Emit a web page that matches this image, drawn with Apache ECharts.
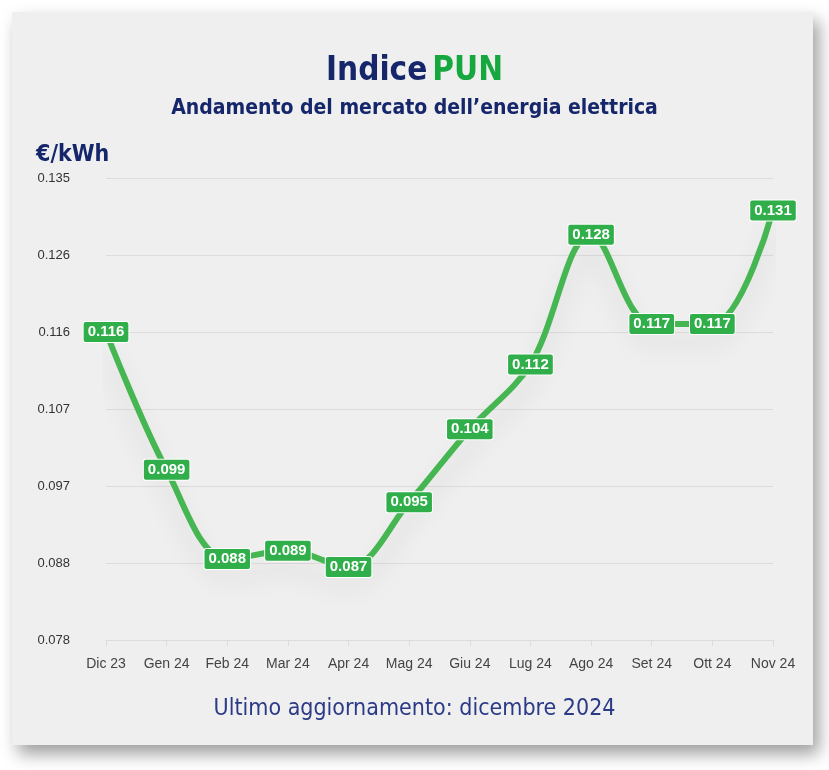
<!DOCTYPE html>
<html>
<head>
<meta charset="utf-8">
<script src="https://cdn.jsdelivr.net/npm/echarts@6/dist/echarts.min.js"></script>
<style>
  html, body { margin: 0; padding: 0; background: #ffffff; }
  #card {
    position: absolute; left: 12px; top: 12px; width: 801px; height: 733px;
    background: #efefef;
    box-shadow: 6px 9px 16px rgba(0, 0, 0, 0.38);
  }
  #chart { position: absolute; left: 0; top: 0; width: 829px; height: 770px; }
</style>
</head>
<body>
<div id="card"></div>
<div id="chart"></div>
<script>
const months = ['Dic 23', 'Gen 24', 'Feb 24', 'Mar 24', 'Apr 24', 'Mag 24', 'Giu 24', 'Lug 24', 'Ago 24', 'Set 24', 'Ott 24', 'Nov 24'];
const pun = [0.116, 0.099, 0.088, 0.089, 0.087, 0.095, 0.104, 0.112, 0.128, 0.117, 0.117, 0.131];
const yMin = 0.078;
const yMax = 0.135;
const yStep = 0.0095;

const navy = '#15266b';
const green = '#16a83f';
const condensed = '"DejaVu Sans Condensed", "Liberation Sans Narrow", sans-serif';
const plain = 'Liberation Sans, Arial, sans-serif';

const chart = echarts.init(document.getElementById('chart'));
chart.setOption({
  backgroundColor: 'transparent',
  title: [
    {
      text: '{a|Indice} {b|PUN}',
      left: 'center',
      top: 50,
      textStyle: {
        rich: {
          a: { fontSize: 33, fontWeight: 'bold', color: navy, fontFamily: condensed },
          b: { fontSize: 33, fontWeight: 'bold', color: green, fontFamily: condensed },
        },
      },
    },
    {
      text: 'Andamento del mercato dell’energia elettrica',
      left: 'center',
      top: 93,
      textStyle: { fontSize: 21, fontWeight: 'bold', color: navy, fontFamily: condensed },
    },
    {
      text: '€/kWh',
      left: 31,
      top: 139,
      textStyle: { fontSize: 23, fontWeight: 'bold', color: navy, fontFamily: condensed },
    },
    {
      text: 'Ultimo aggiornamento: dicembre 2024',
      left: 'center',
      top: 693,
      textStyle: { fontSize: 23, fontWeight: 'normal', color: '#2b3a86', fontFamily: condensed },
    },
  ],
  grid: { left: 106, right: 56, top: 178, bottom: 130 },
  xAxis: {
    type: 'category',
    data: months,
    boundaryGap: false,
    axisLine: { lineStyle: { color: '#dcdcdc' } },
    axisTick: { show: true, interval: 0, lineStyle: { color: '#dcdcdc' }, length: 6 },
    axisLabel: { interval: 0, color: '#444', fontSize: 14, margin: 17, fontFamily: plain },
  },
  yAxis: {
    type: 'value',
    min: yMin,
    max: yMax,
    interval: yStep,
    axisLine: { show: false },
    axisTick: { show: false },
    splitLine: { lineStyle: { color: '#dcdcdc' } },
    axisLabel: {
      color: '#333',
      fontSize: 13,
      margin: 36,
      fontFamily: plain,
      formatter: (v) => (Math.round(Math.round(v * 1e6) / 1e3) / 1e3).toFixed(3),
    },
  },
  series: [
    {
      type: 'line',
      data: pun,
      smooth: 0.35,
      symbol: 'circle',
      symbolSize: 2,
      itemStyle: { color: '#46b653' },
      lineStyle: {
        width: 6,
        color: '#46b653',
        shadowColor: 'rgba(0, 0, 0, 0.12)',
        shadowBlur: 24,
        shadowOffsetY: 18,
      },
      label: {
        show: true,
        position: 'inside',
        color: '#fff',
        fontWeight: 'bold',
        fontSize: 15,
        fontFamily: plain,
        backgroundColor: '#2fae4a',
        borderColor: '#ffffff',
        borderWidth: 1,
        borderRadius: 2,
        padding: [3, 4, 2, 4],
        formatter: (p) => p.value.toFixed(3),
      },
    },
  ],
});
</script>
</body>
</html>
